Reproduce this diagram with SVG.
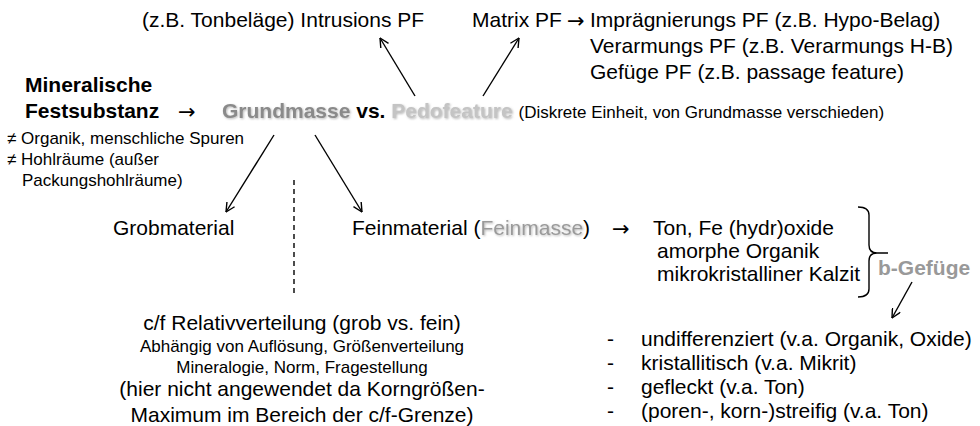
<svg xmlns="http://www.w3.org/2000/svg" width="980" height="426" viewBox="0 0 980 426">
<defs>
<style>
text{font-family:"Liberation Sans",Arial,sans-serif;fill:#000}
.t21{font-size:21px}
.t17{font-size:17px}
.b{font-weight:bold}
.arr{font-family:"DejaVu Sans",sans-serif;font-size:21px;font-weight:normal}
.g1{fill:#8a8a8a;filter:url(#sh)}
.g2{fill:#c4c4c4;filter:url(#sh)}
.g3{fill:#9a9a9a;filter:url(#sh)}
.g4{fill:#999}
.ln{stroke:#000;stroke-width:1.4;fill:none}
.ar{marker-end:url(#ah)}
.cm{text-anchor:middle}
</style>
<filter id="sh" x="-10%" y="-30%" width="120%" height="160%">
<feDropShadow dx="1" dy="1" stdDeviation="0.8" flood-color="#888" flood-opacity="0.6"/>
</filter>
<marker id="ah" viewBox="0 0 10 10" refX="9.5" refY="5" markerWidth="10" markerHeight="10" markerUnits="userSpaceOnUse" orient="auto">
<path d="M0.5,0.5 L9.5,5 L0.5,9.5" stroke="#000" stroke-width="1.4" fill="none"/>
</marker>
</defs>
<rect width="980" height="426" fill="#fff"/>

<g id="connectors">
<line class="ln ar" x1="415" y1="96" x2="380" y2="38"/>
<line class="ln ar" x1="483" y1="96" x2="519" y2="38"/>
<line class="ln ar" x1="274" y1="135" x2="226" y2="212"/>
<line class="ln ar" x1="315" y1="135" x2="362" y2="212"/>
<line class="ln" x1="294" y1="180" x2="294" y2="297" stroke-dasharray="5 4"/>
<path class="ln" d="M858 207 Q869 207 869 215 L869 245 Q869 253 877 253 L888 253 M877 253 Q869 253 869 261 L869 289 Q869 297 858 297"/>
<line class="ln ar" x1="912" y1="282" x2="892" y2="318"/>
</g>

<g id="intrusions">
<text class="t21" x="142" y="27">(z.B. Tonbeläge) Intrusions PF</text>
</g>

<g id="matrix">
<text class="t21" x="472" y="27">Matrix PF</text>
<text class="arr" x="567" y="28">→</text>
<text class="t21" x="590" y="27">Imprägnierungs PF (z.B. Hypo-Belag)</text>
<text class="t21" x="590" y="53">Verarmungs PF (z.B. Verarmungs H-B)</text>
<text class="t21" x="590" y="79">Gefüge PF (z.B. passage feature)</text>
</g>

<g id="mineral">
<text class="t21 b" x="25" y="92">Mineralische</text>
<text class="t21 b" x="25" y="118">Festsubstanz</text>
<text class="arr" x="178" y="119">→</text>
</g>

<g id="main">
<text class="t21 b" x="222" y="118"><tspan class="g1">Grundmasse</tspan> vs. <tspan class="g2">Pedofeature</tspan> <tspan class="t17" style="font-weight:normal">(Diskrete Einheit, von Grundmasse verschieden)</tspan></text>
</g>

<g id="exclusions">
<text class="t17" x="7" y="144">≠ Organik, menschliche Spuren</text>
<text class="t17" x="7" y="165">≠ Hohlräume (außer</text>
<text class="t17" x="22" y="186">Packungshohlräume)</text>
</g>

<g id="grob">
<text class="t21" x="113" y="235">Grobmaterial</text>
</g>

<g id="fein">
<text class="t21" x="352" y="235">Feinmaterial (<tspan class="g3">Feinmasse</tspan>)</text>
<text class="arr" x="612" y="236">→</text>
</g>

<g id="components">
<text class="t21" x="653" y="235">Ton, Fe (hydr)oxide</text>
<text class="t21" x="657" y="258">amorphe Organik</text>
<text class="t21" x="657" y="281">mikrokristalliner Kalzit</text>
</g>

<g id="bgefuege">
<text class="t21 b g4" x="878" y="275">b-Gefüge</text>
</g>

<g id="cf">
<text class="t21 cm" x="302" y="330">c/f Relativverteilung (grob vs. fein)</text>
<text class="t17 cm" x="302" y="352">Abhängig von Auflösung, Größenverteilung</text>
<text class="t17 cm" x="302" y="373">Mineralogie, Norm, Fragestellung</text>
<text class="t21 cm" x="302" y="396">(hier nicht angewendet da Korngrößen-</text>
<text class="t21 cm" x="302" y="422">Maximum im Bereich der c/f-Grenze)</text>
</g>

<g id="list">
<text class="t21" x="607" y="346">-</text><text class="t21" x="641" y="346">undifferenziert (v.a. Organik, Oxide)</text>
<text class="t21" x="607" y="370">-</text><text class="t21" x="641" y="370">kristallitisch (v.a. Mikrit)</text>
<text class="t21" x="607" y="394">-</text><text class="t21" x="641" y="394">gefleckt (v.a. Ton)</text>
<text class="t21" x="607" y="418">-</text><text class="t21" x="641" y="418">(poren-, korn-)streifig (v.a. Ton)</text>
</g>
</svg>
